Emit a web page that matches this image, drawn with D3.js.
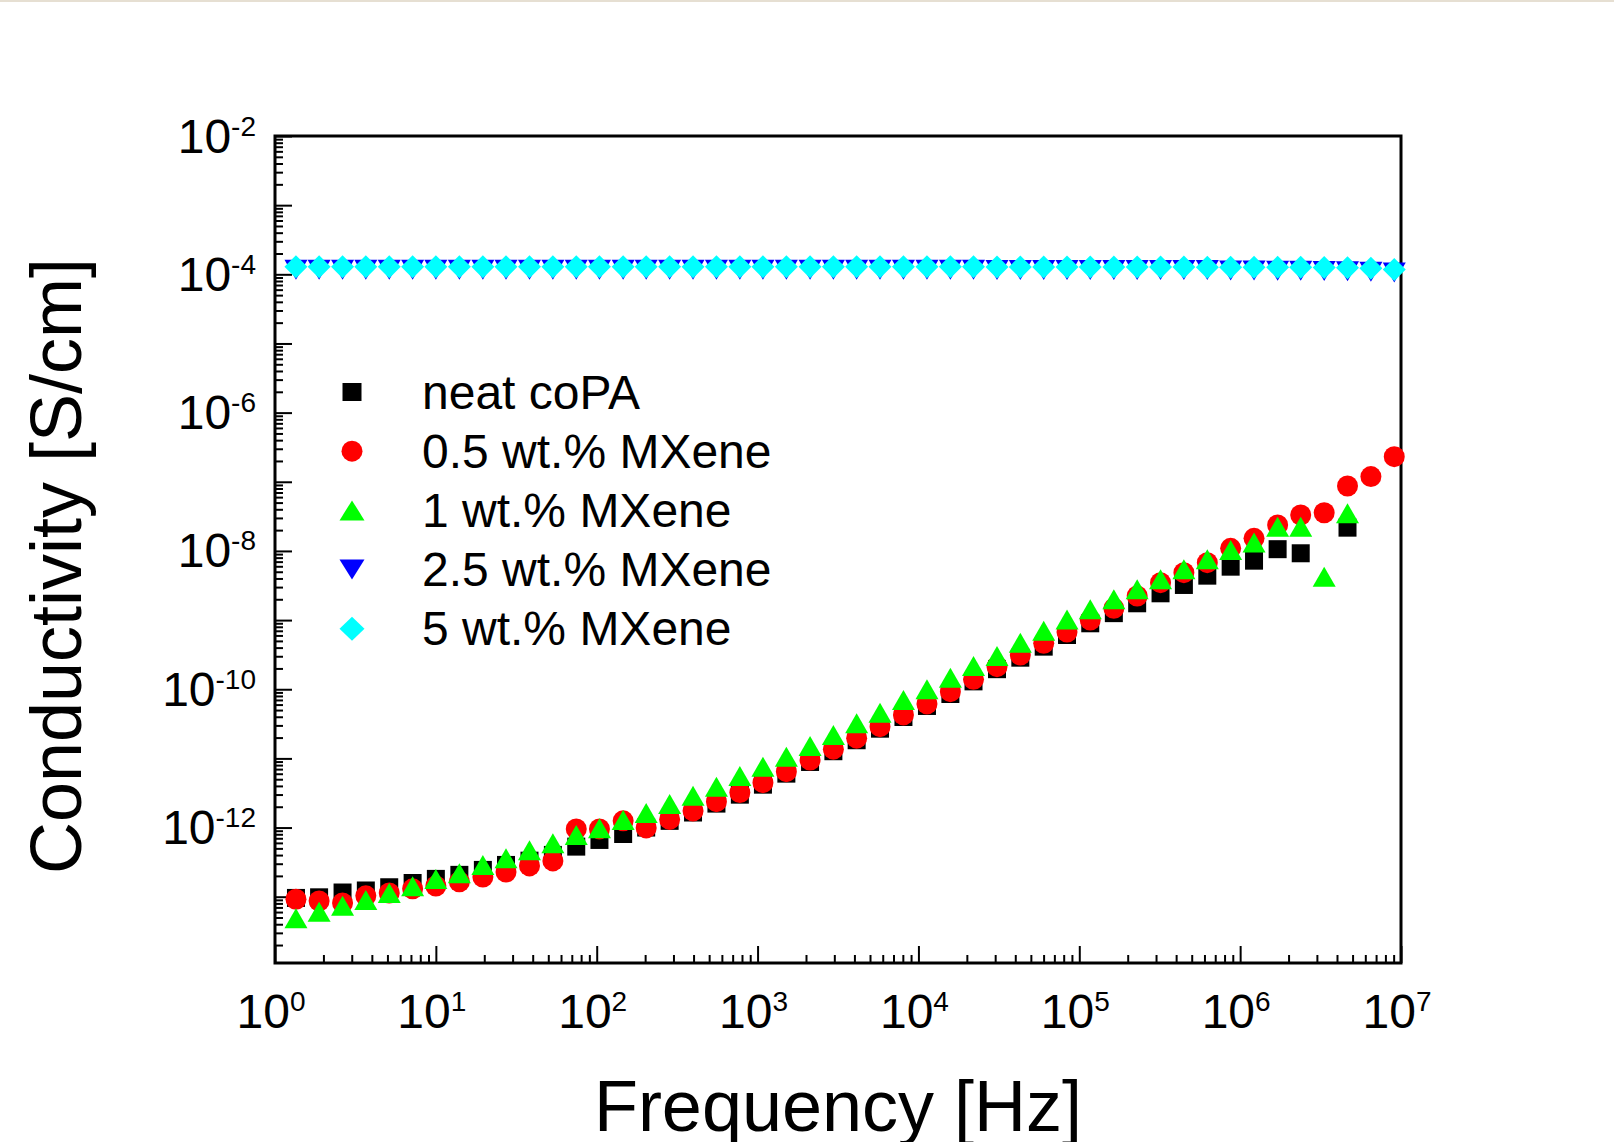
<!DOCTYPE html>
<html>
<head>
<meta charset="utf-8">
<script src="https://cdnjs.cloudflare.com/ajax/libs/d3/7.8.5/d3.min.js"></script>
<style>
    body { margin: 0; background: #ffffff; }
    svg { display: block; font-family: "Liberation Sans", Arial, sans-serif; }
</style>
</head>
<body>
<div id="chartContainer"></div>
<script>

///frequency grid [Hz]
var freq = [1.35, 1.88, 2.63, 3.67, 5.13, 7.17, 10.0, 14.0, 19.6, 27.3, 38.2, 53.4,
    74.6, 104, 146, 203, 284, 397, 555, 776, 1080, 1510, 2120, 2960,
    4130, 5770, 8070, 11300, 15800, 22000, 30800, 43000, 60100, 83900, 117000, 164000,
    229000, 320000, 447000, 625000, 873000, 1.22e6, 1.71e6, 2.38e6, 3.33e6, 4.65e6, 6.50e6, 9.08e6];

///conductivity [S/cm], null = no point
var neatCoPA = [9.6e-14, 9.8e-14, 1.15e-13, 1.23e-13, 1.37e-13, 1.58e-13, 1.81e-13, 2.07e-13, 2.44e-13, 2.88e-13, 3.32e-13, 4.02e-13,
    5.30e-13, 6.62e-13, 8.07e-13, 1.00e-12, 1.25e-12, 1.65e-12, 2.22e-12, 2.99e-12, 4.17e-12, 6.02e-12, 8.88e-12, 1.27e-11,
    1.83e-11, 2.69e-11, 3.97e-11, 5.73e-11, 8.54e-11, 1.30e-10, 1.95e-10, 2.86e-10, 4.13e-10, 6.09e-10, 8.99e-10, 1.26e-9,
    1.75e-9, 2.44e-9, 3.22e-9, 4.39e-9, 5.92e-9, 7.23e-9, 1.06e-8, 9.25e-9, null, 2.17e-8, null, null];

var mxene05 = [9.19e-14, 8.68e-14, 8.12e-14, 1.03e-13, 1.13e-13, 1.30e-13, 1.43e-13, 1.64e-13, 1.93e-13, 2.28e-13, 2.79e-13, 3.29e-13,
    9.55e-13, 9.55e-13, 1.25e-12, 9.87e-13, 1.31e-12, 1.74e-12, 2.37e-12, 3.20e-12, 4.46e-12, 6.43e-12, 9.49e-12, 1.36e-11,
    1.96e-11, 2.88e-11, 4.25e-11, 6.13e-11, 9.23e-11, 1.39e-10, 2.12e-10, 3.13e-10, 4.62e-10, 6.73e-10, 1.00e-9, 1.48e-9,
    2.23e-9, 3.48e-9, 4.85e-9, 6.77e-9, 1.09e-8, 1.52e-8, 2.37e-8, 3.31e-8, 3.57e-8, 8.69e-8, 1.19e-7, 2.31e-7];

var mxene1 = [4.88e-14, 6.08e-14, 7.42e-14, 8.98e-14, 1.13e-13, 1.42e-13, 1.81e-13, 2.18e-13, 2.88e-13, 3.60e-13, 4.70e-13, 5.93e-13,
    7.82e-13, 9.77e-13, 1.29e-12, 1.63e-12, 2.19e-12, 2.88e-12, 3.90e-12, 5.57e-12, 7.60e-12, 1.06e-11, 1.51e-11, 2.18e-11,
    3.22e-11, 4.59e-11, 7.00e-11, 9.99e-11, 1.47e-10, 2.17e-10, 3.03e-10, 4.72e-10, 7.01e-10, 1.02e-9, 1.43e-9, 2.00e-9,
    2.79e-9, 3.89e-9, 5.43e-9, 7.58e-9, 1.03e-8, 1.32e-8, 2.24e-8, 2.24e-8, 4.24e-9, 3.50e-8, null, null];

var mxene25 = [1.16e-4, 1.16e-4, 1.16e-4, 1.16e-4, 1.16e-4, 1.16e-4, 1.16e-4, 1.16e-4, 1.16e-4, 1.16e-4, 1.16e-4, 1.16e-4,
    1.16e-4, 1.16e-4, 1.16e-4, 1.16e-4, 1.16e-4, 1.16e-4, 1.16e-4, 1.16e-4, 1.16e-4, 1.16e-4, 1.16e-4, 1.16e-4,
    1.16e-4, 1.16e-4, 1.16e-4, 1.16e-4, 1.16e-4, 1.16e-4, 1.15e-4, 1.15e-4, 1.15e-4, 1.15e-4, 1.15e-4, 1.15e-4,
    1.15e-4, 1.15e-4, 1.15e-4, 1.15e-4, 1.14e-4, 1.14e-4, 1.13e-4, 1.13e-4, 1.12e-4, 1.11e-4, 1.09e-4, 1.06e-4];

var mxene5 = [1.29e-4, 1.29e-4, 1.29e-4, 1.29e-4, 1.29e-4, 1.29e-4, 1.29e-4, 1.29e-4, 1.29e-4, 1.29e-4, 1.29e-4, 1.29e-4,
    1.29e-4, 1.29e-4, 1.29e-4, 1.29e-4, 1.29e-4, 1.29e-4, 1.29e-4, 1.29e-4, 1.29e-4, 1.29e-4, 1.29e-4, 1.29e-4,
    1.29e-4, 1.29e-4, 1.29e-4, 1.29e-4, 1.29e-4, 1.29e-4, 1.28e-4, 1.28e-4, 1.28e-4, 1.28e-4, 1.28e-4, 1.28e-4,
    1.28e-4, 1.28e-4, 1.28e-4, 1.27e-4, 1.27e-4, 1.27e-4, 1.26e-4, 1.26e-4, 1.25e-4, 1.24e-4, 1.22e-4, 1.17e-4];

var seriesNames = ["neat coPA", "0.5 wt.% MXene", "1 wt.% MXene", "2.5 wt.% MXene", "5 wt.% MXene"];
var seriesValues = [neatCoPA, mxene05, mxene1, mxene25, mxene5];
var seriesColors = ["#000000", "#ff0000", "#00ff00", "#0000ff", "#00ffff"];
var seriesShapes = ["square", "circle", "up", "down", "diamond"];

var xMajor = [1, 10, 100, 1e3, 1e4, 1e5, 1e6, 1e7];
var xExp = ["0", "1", "2", "3", "4", "5", "6", "7"];
var yMajor = [1e-2, 1e-4, 1e-6, 1e-8, 1e-10, 1e-12];
var yExp = ["-2", "-4", "-6", "-8", "-10", "-12"];

///plot box (window.top is read-only, so use own names)
var W = 1614, H = 1142;
var pLeft = 275, pRight = 1401, pTop = 136, pBottom = 963;

var svg = d3.select("#chartContainer")
    .append("svg")
    .attr("width", W)
    .attr("height", H);

svg.append("rect").attr("width", W).attr("height", H).attr("fill", "#ffffff");
svg.append("rect").attr("width", W).attr("height", 2).attr("fill", "#e6dfd2");

var x = d3.scaleLog().domain([1, 1e7]).range([pLeft, pRight]);
var y = d3.scaleLog().domain([1.1e-14, 1e-2]).range([pBottom, pTop]);

/* symbol shapes, w = width, h = height */
function shapePath(shape, w, h) {
    var a = w / 2, b = h / 2;
    if (shape == "square") return "M" + (-a) + "," + (-b) + "H" + a + "V" + b + "H" + (-a) + "Z";
    if (shape == "circle") return d3.symbol(d3.symbolCircle, Math.PI * a * a)();
    if (shape == "up") return "M0," + (-b) + "L" + a + "," + b + "L" + (-a) + "," + b + "Z";
    if (shape == "down") return "M0," + b + "L" + a + "," + (-b) + "L" + (-a) + "," + (-b) + "Z";
    return "M0," + (-b) + "L" + a + ",0L0," + b + "L" + (-a) + ",0Z";
}
var markSize = {square: [18, 18], circle: [21, 21], up: [23, 20], down: [23, 20], diamond: [23, 23]};
var legendSize = {square: [19, 18], circle: [21, 21], up: [25, 20], down: [25, 20], diamond: [25, 24]};

///axes, ticks point inward
function isDecade(t) { return Math.abs(Math.log10(t) - Math.round(Math.log10(t))) < 1e-6; }
var xMinor = x.ticks(100).filter(function(t) { return !isDecade(t); });
var yMinor = y.ticks(100).filter(function(t) { return !isDecade(t); });
var yAllMajor = y.ticks(100).filter(isDecade);

var gx = svg.append("g").attr("transform", "translate(0," + pBottom + ")");
gx.append("g").call(d3.axisBottom(x).tickValues(xMinor).tickSize(-8).tickSizeOuter(0).tickFormat(""));
gx.append("g").call(d3.axisBottom(x).tickValues(xMajor).tickSize(-17).tickSizeOuter(0).tickFormat(""));

var gy = svg.append("g").attr("transform", "translate(" + pLeft + ",0)");
gy.append("g").call(d3.axisLeft(y).tickValues(yMinor).tickSize(-8).tickSizeOuter(0).tickFormat(""));
gy.append("g").call(d3.axisLeft(y).tickValues(yAllMajor).tickSize(-17).tickSizeOuter(0).tickFormat(""));

svg.selectAll(".domain").remove();
svg.selectAll(".tick line").attr("stroke", "#000").attr("stroke-width", 2);

///frame
svg.append("rect")
    .attr("x", pLeft).attr("y", pTop)
    .attr("width", pRight - pLeft).attr("height", pBottom - pTop)
    .attr("fill", "none").attr("stroke", "#000").attr("stroke-width", 3);

///tick labels with superscripts
var xl = svg.append("g").selectAll("text")
    .data(xMajor)
    .enter().append("text")
    .attr("x", function(d) { return x(d) - 4; })
    .attr("y", 1028)
    .attr("text-anchor", "middle")
    .attr("font-size", 48)
    .attr("fill", "#000");
xl.append("tspan").text("10");
xl.append("tspan").attr("dy", -17).attr("font-size", 28).text(function(d, i) { return xExp[i]; });

var yl = svg.append("g").selectAll("text")
    .data(yMajor)
    .enter().append("text")
    .attr("x", 256)
    .attr("y", function(d) { return y(d) + 16.5; })
    .attr("text-anchor", "end")
    .attr("font-size", 48)
    .attr("fill", "#000");
yl.append("tspan").text("10");
yl.append("tspan").attr("dy", -17).attr("font-size", 28).text(function(d, i) { return yExp[i]; });

///axis titles
svg.append("text")
    .attr("x", 838).attr("y", 1131)
    .attr("text-anchor", "middle")
    .attr("font-size", 72)
    .text("Frequency [Hz]");

svg.append("text")
    .attr("transform", "translate(81,566) rotate(-90)")
    .attr("text-anchor", "middle")
    .attr("font-size", 72)
    .text("Conductivity [S/cm]");

///data points, drawn in series order
seriesValues.forEach(function(vals, s) {
    var pts = freq.map(function(f, i) { return {f: f, v: vals[i]}; })
        .filter(function(d) { return d.v != null; });
    var sz = markSize[seriesShapes[s]];
    svg.append("g")
        .selectAll("path")
        .data(pts)
        .enter().append("path")
        .attr("d", shapePath(seriesShapes[s], sz[0], sz[1]))
        .attr("transform", function(d) { return "translate(" + x(d.f) + "," + y(d.v) + ")"; })
        .attr("fill", seriesColors[s]);
});

///legend
var legend = svg.append("g")
    .selectAll("g")
    .data(seriesNames)
    .enter().append("g")
    .attr("transform", function(d, i) { return "translate(352," + (392 + i * 59.2) + ")"; });

legend.append("path")
    .attr("d", function(d, i) { var sz = legendSize[seriesShapes[i]]; return shapePath(seriesShapes[i], sz[0], sz[1]); })
    .attr("fill", function(d, i) { return seriesColors[i]; });

legend.append("text")
    .attr("x", 70)
    .attr("y", 16.5)
    .attr("font-size", 48)
    .attr("fill", "#000")
    .text(function(d) { return d; });

</script>
</body>
</html>
